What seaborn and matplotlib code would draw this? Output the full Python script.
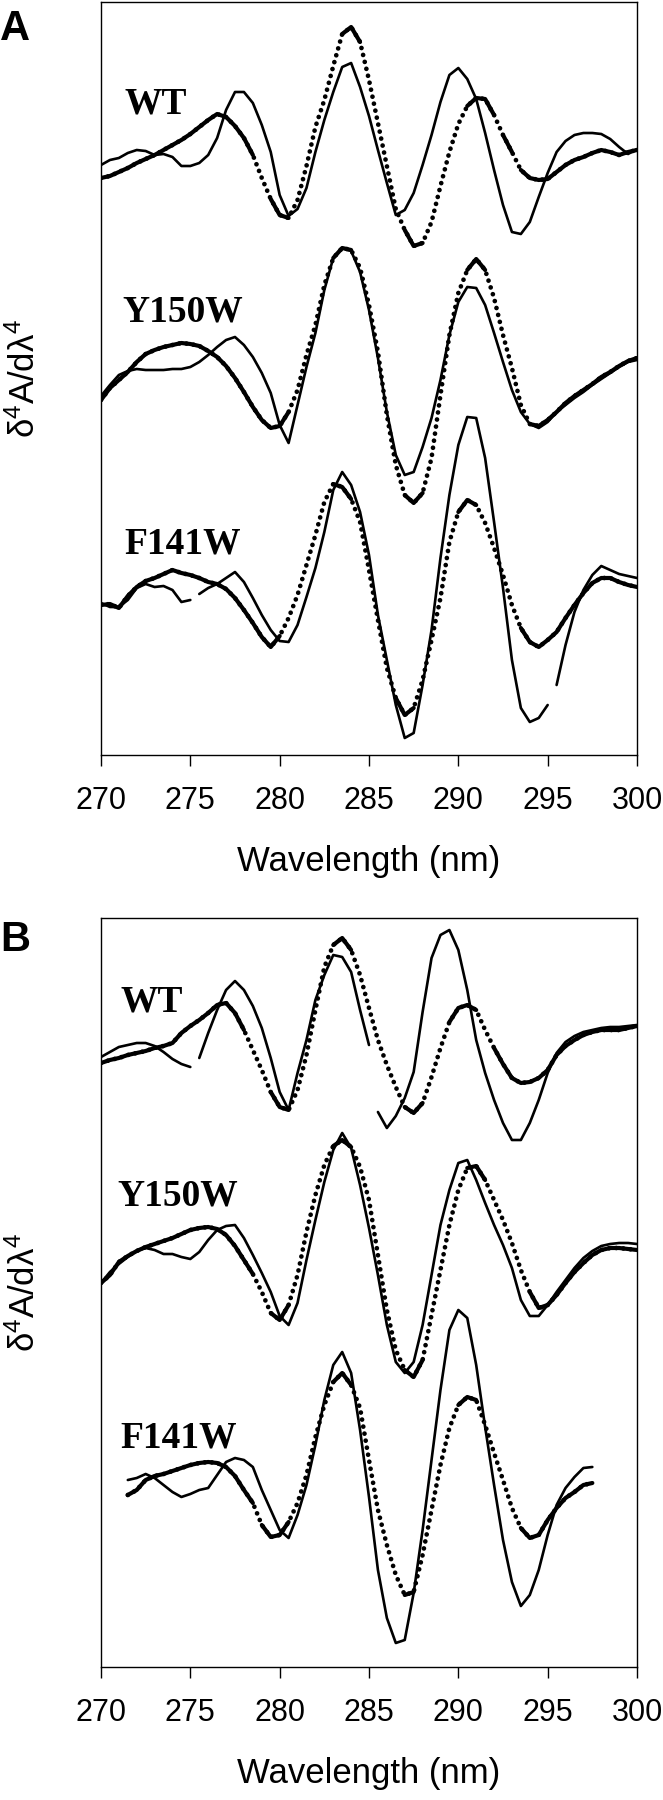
import matplotlib.pyplot as plt
import numpy as np
import pandas as pd
import seaborn as sns

# 4th-derivative spectra (arbitrary units), 0.5 nm steps
wavelength = np.arange(270, 300.25, 0.5)

# panel A
a_wt_thin = [590, 595, 597, 602, 605, 604, 600, 601, 598, 589, 589, 592, 600, 617, 645, 663, 663, 652, 630, 603,
             560, 539, 546, 567, 603, 635, 663, 688, 692, 668, 639, 605, 572, 540, 545, 562, 590, 620, 653, 680,
             687, 676, 656, 622, 585, 550, 523, 521, 533, 558, 582, 603, 614, 620, 622, 622, 621, 616, 608, 601, 606]
a_wt_dot = [577, 579, 583, 587, 592, 596, 600, 605, 610, 615, 621, 628, 635, 641, 638, 629, 617, 600, 577, 556,
            540, 537, 555, 589, 628, 655, 689, 721, 728, 713, 675, 632, 589, 546, 525, 509, 512, 533, 569, 603,
            631, 649, 657, 656, 640, 620, 603, 585, 577, 575, 576, 583, 590, 595, 598, 602, 605, 603, 600, 603, 605]
a_y150w_thin = [359, 370, 380, 384, 386, 385, 385, 385, 386, 386, 388, 393, 400, 408, 415, 418, 410, 398, 382, 362,
                330, 312, 350, 388, 422, 465, 497, 507, 504, 483, 445, 397, 343, 300, 280, 283, 308, 337, 375, 420,
                453, 468, 467, 450, 422, 393, 365, 343, 331, 327, 333, 343, 350, 357, 363, 370, 376, 382, 388, 393, 395]
a_y150w_dot = [355, 367, 375, 383, 393, 401, 405, 408, 410, 412, 411, 409, 404, 398, 389, 377, 363, 348, 335, 327,
               329, 343, 365, 400, 430, 470, 497, 507, 505, 487, 450, 403, 340, 290, 260, 252, 262, 297, 360, 420,
               462, 485, 496, 485, 457, 420, 387, 350, 331, 329, 335, 343, 352, 359, 365, 371, 378, 383, 389, 394, 397]
a_f141w_thin = [152, 148, 148, 155, 167, 171, 168, 169, 165, 153, 155, 161, 167, 171, 177, 183, 173, 157, 140, 125,
                114, 113, 130, 158, 187, 223, 265, 283, 270, 243, 200, 140, 95, 50, 17, 22, 70, 125, 197, 260,
                310, 338, 337, 297, 233, 167, 95, 47, 33, 37, 50, 70, 110, 143, 165, 180, 189, 185, 181, 179, 177]
a_f141w_dot = [150, 151, 147, 159, 168, 174, 177, 181, 185, 182, 180, 177, 173, 171, 166, 157, 145, 132, 118, 108,
               119, 137, 160, 190, 220, 253, 271, 268, 256, 233, 185, 135, 87, 57, 40, 47, 75, 115, 157, 213,
               243, 255, 250, 232, 207, 180, 150, 127, 113, 108, 115, 123, 137, 150, 162, 172, 177, 177, 173, 170, 168]

# panel B
b_wt_thin = [610, 615, 620, 622, 624, 624, 621, 615, 608, 603, 600, 609, 634, 657, 677, 686, 677, 661, 639, 609,
             575, 557, 594, 627, 667, 692, 712, 710, 695, 657, 622, 555, 539, 551, 569, 595, 655, 709, 732, 737,
             717, 677, 627, 594, 567, 544, 527, 527, 544, 567, 594, 614, 625, 631, 635, 637, 639, 640, 640, 641, 642]
b_wt_dot = [604, 607, 609, 612, 614, 616, 619, 621, 624, 634, 641, 647, 654, 662, 664, 654, 637, 617, 597, 575,
            560, 557, 577, 612, 657, 700, 722, 729, 717, 692, 659, 627, 602, 580, 560, 554, 564, 590, 619, 645,
            659, 662, 657, 637, 619, 603, 589, 584, 585, 589, 597, 612, 621, 627, 632, 635, 637, 637, 637, 639, 641]
b_y150w_thin = [384, 395, 403, 410, 416, 419, 417, 413, 413, 410, 408, 415, 427, 437, 441, 442, 429, 412, 394, 375,
                351, 342, 364, 407, 447, 485, 517, 534, 519, 482, 439, 392, 342, 305, 294, 305, 342, 392, 442, 477,
                504, 507, 487, 464, 442, 422, 399, 367, 351, 351, 362, 375, 387, 399, 409, 416, 421, 423, 424, 424, 423]
b_y150w_dot = [384, 392, 405, 411, 416, 420, 423, 426, 429, 433, 437, 439, 440, 438, 432, 421, 407, 393, 375, 354,
               347, 362, 392, 435, 472, 502, 521, 527, 520, 500, 467, 412, 357, 317, 297, 290, 307, 352, 397, 442,
               477, 499, 501, 487, 467, 447, 424, 397, 375, 359, 362, 372, 384, 395, 404, 412, 417, 419, 419, 418, 417]
b_f141w_thin = [None, None, None,
                187, 189, 193, 189, 182, 175, 170, 173, 177, 179, 192, 205, 209, 207, 200, 177, 157, 137, 129,
                152, 182, 222, 267, 302, 315, 294, 237, 170, 97, 49, 24, 27, 74, 137, 207, 277, 337, 357, 349,
                302, 240, 182, 127, 85, 61, 72, 97, 132, 162, 179, 190, 199, 200,
                None, None, None, None, None]
b_f141w_dot = [None, None, None,
               172, 177, 187, 191, 193, 196, 199, 202, 204, 205, 204, 200, 191, 177, 164, 142, 130, 132, 145,
               164, 192, 230, 262, 285, 294, 282, 259, 207, 157, 122, 92, 72, 75, 112, 157, 202, 239, 262, 270,
               267, 242, 214, 187, 159, 139, 129, 132, 147, 159, 169, 175, 182, 184,
               None, None, None, None, None]

# short breaks in the scanned traces (wavelength where the gap starts)
a_breaks = [[], [], [275.0, 295.0]]
b_breaks = [[275.0, 285.0], [], []]

mutants = ["WT", "Y150W", "F141W"]

sns.set_theme(style="ticks", rc={"axes.edgecolor": "black", "text.color": "black",
                                 "xtick.color": "black", "axes.labelcolor": "black"})
plt.rcParams["font.family"] = ["Liberation Sans", "DejaVu Sans"]
plt.rcParams["mathtext.fontset"] = "custom"
plt.rcParams["mathtext.rm"] = "Liberation Sans"
plt.rcParams["mathtext.it"] = "Liberation Sans"


def flat_runs(ax, x, y, max_slope=2.0):
    # pieces of a curve shallow enough that the sampled dots merge into a solid line
    pts = ax.transData.transform(np.column_stack([x, y]))
    dx = np.diff(pts[:, 0])
    dy = np.diff(pts[:, 1])
    flat = np.abs(dy) <= max_slope * np.abs(dx)
    rows = []
    run = -1
    for i, ok in enumerate(flat):
        if not ok:
            continue
        if i == 0 or not flat[i - 1]:
            run += 1
            rows.append((x[i], y[i], run))
        rows.append((x[i + 1], y[i + 1], run))
    return pd.DataFrame(rows, columns=["nm", "au", "run"])


def spectra_panel(ax, curves, breaks, top, label_pos):
    ax.set_xlim(270, 300)
    ax.set_ylim(0, top)
    for name, (thin, dot), gaps, (lx, ly) in zip(mutants, curves, breaks, label_pos):
        thin_df = pd.DataFrame({"nm": wavelength, "au": np.array(thin, dtype=float),
                                "seg": np.searchsorted(gaps, wavelength, side="left")})
        dot = np.array(dot, dtype=float)
        sns.lineplot(data=thin_df, x="nm", y="au", units="seg", estimator=None, ax=ax,
                     color="black", lw=1.9, legend=False)
        sns.lineplot(x=wavelength, y=dot, ax=ax, color="black", lw=3.4,
                     linestyle=(0, (0.01, 1.5)), dash_capstyle="round", legend=False)
        runs = flat_runs(ax, wavelength, dot)
        sns.lineplot(data=runs, x="nm", y="au", units="run", estimator=None, ax=ax,
                     color="black", lw=3.0, legend=False)
        ax.text(lx, ly, name, fontfamily="Liberation Serif", fontweight="bold", fontsize=27,
                ha="left", va="baseline")

    for spine in ax.spines.values():
        spine.set_visible(True)
        spine.set_linewidth(1.0)
        spine.set_color("black")
    ax.set_yticks([])
    ax.set_xticks(range(270, 301, 5))
    ax.tick_params(axis="x", direction="out", length=8, width=1.0, pad=14, labelsize=22)
    ax.set_xlabel("Wavelength (nm)", fontsize=25)
    ax.xaxis.set_label_coords(0.5, -0.12)
    ax.set_ylabel(r"$\mathregular{\delta^4A/d\lambda^4}$", fontsize=25)
    ax.yaxis.set_label_coords(-0.11, 0.5)


fig = plt.figure(figsize=(6.63, 18), dpi=100)
ax_a = fig.add_axes([101 / 663, 1045 / 1800, 536 / 663, 753 / 1800])
ax_b = fig.add_axes([101 / 663, 133 / 1800, 536 / 663, 749 / 1800])

spectra_panel(ax_a,
              [(a_wt_thin, a_wt_dot), (a_y150w_thin, a_y150w_dot), (a_f141w_thin, a_f141w_dot)],
              a_breaks, 753, [(271.3, 641), (271.2, 433), (271.3, 202)])
spectra_panel(ax_b,
              [(b_wt_thin, b_wt_dot), (b_y150w_thin, b_y150w_dot), (b_f141w_thin, b_f141w_dot)],
              b_breaks, 749, [(271.1, 655), (270.9, 462), (271.1, 220)])

fig.text(0.0, 1 - 9 / 1800, "A", fontsize=30, fontweight="bold", ha="left", va="top")
fig.text(0.0, 1 - 920 / 1800, "B", fontsize=30, fontweight="bold", ha="left", va="top")

fig.savefig("out.png", dpi=100)
